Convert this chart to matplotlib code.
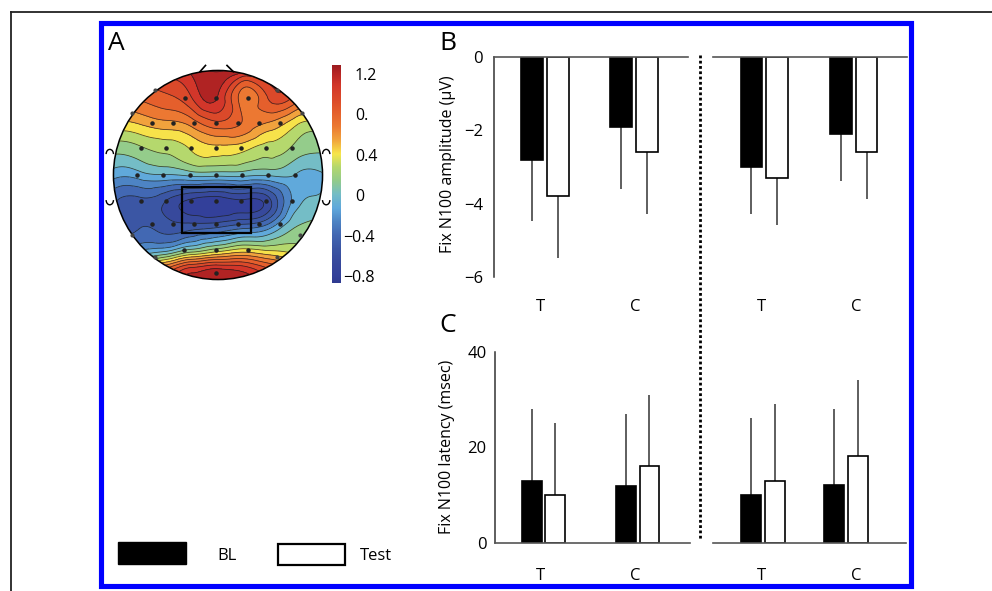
import numpy as np
import matplotlib
matplotlib.use("Agg")
import matplotlib.pyplot as plt
from matplotlib.colors import LinearSegmentedColormap, Normalize
from matplotlib.patches import Circle, Rectangle, Arc
from matplotlib.lines import Line2D
import matplotlib.tri as mtri

plt.rcParams['font.family'] = ['Open Sans', 'DejaVu Sans']

# ---------------- data ----------------
categories = ["T", "C"]
series_names = ["BL", "Test"]

amp_left_bl = [-2.81, -1.90]
amp_left_bl_err = [1.66, 1.70]
amp_left_test = [-3.79, -2.60]
amp_left_test_err = [1.69, 1.68]
amp_right_bl = [-3.01, -2.10]
amp_right_bl_err = [1.27, 1.28]
amp_right_test = [-3.30, -2.60]
amp_right_test_err = [1.29, 1.28]

lat_left_bl = [13.1, 12.0]
lat_left_bl_err = [14.9, 15.0]
lat_left_test = [10.1, 16.1]
lat_left_test_err = [15.0, 14.9]
lat_right_bl = [10.1, 12.2]
lat_right_bl_err = [16.0, 15.8]
lat_right_test = [13.1, 18.2]
lat_right_test_err = [15.9, 15.9]

amp_ticks = [0, -2, -4, -6]
amp_tick_labels = ["0", "\u22122", "\u22124", "\u22126"]
lat_ticks = [0, 20, 40]
lat_tick_labels = ["0", "20", "40"]

cbar_ticks = [1.2, 0.8, 0.4, 0.0, -0.4, -0.8]
cbar_tick_labels = ["1.2", "0.", "0.4", "0", "\u22120.4", "\u22120.8"]
cbar_min, cbar_max = -0.85, 1.31

# topography values on a coarse grid (rows: front -> back; cols: left -> right)
topo_x = [-1.0, -0.75, -0.5, -0.25, 0.0, 0.25, 0.5, 0.75, 1.0]
topo_y = [1.0, 0.75, 0.5, 0.25, 0.0, -0.25, -0.5, -0.75, -0.875, -1.0]
topo_values = [
    [0.95, 1.00, 1.10, 1.22, 1.32, 1.25, 1.15, 1.05, 0.95],
    [0.75, 0.80, 0.88, 1.05, 1.17, 0.70, 0.95, 0.88, 0.80],
    [0.48, 0.52, 0.60, 0.70, 0.88, 0.75, 0.62, 0.40, 0.32],
    [0.15, 0.20, 0.27, 0.38, 0.45, 0.40, 0.30, 0.18, 0.12],
    [-0.12, -0.10, -0.05, 0.00, 0.00, 0.00, -0.02, -0.05, -0.05],
    [-0.42, -0.48, -0.58, -0.75, -0.80, -0.74, -0.60, -0.10, 0.00],
    [-0.40, -0.45, -0.50, -0.50, -0.45, -0.35, -0.20, 0.10, 0.15],
    [-0.20, -0.10, 0.05, 0.30, 0.45, 0.55, 0.45, 0.35, 0.30],
    [0.20, 0.40, 0.70, 1.00, 1.10, 1.05, 0.85, 0.60, 0.40],
    [0.50, 0.80, 1.00, 1.20, 1.28, 1.25, 1.05, 0.80, 0.60],
]

# ---------------- layout helpers ----------------
W, H = 992, 591
fig = plt.figure(figsize=(W / 100, H / 100), dpi=100)
fig.patch.set_facecolor("white")


def rect(x0, y0, x1, y1):
    return [x0 / W, 1 - y1 / H, (x1 - x0) / W, (y1 - y0) / H]


# overlay axes in pixel coordinates
ov = fig.add_axes([0, 0, 1, 1], zorder=0)
ov.set_xlim(0, W)
ov.set_ylim(H, 0)
ov.axis("off")
ov.patch.set_alpha(0)

# outer thin frame (top and left only)
ov.add_line(Line2D([11, W], [12, 12], color="#222222", lw=1.3))
ov.add_line(Line2D([11, 11], [12, H], color="#222222", lw=1.3))
# blue border
ov.add_patch(Rectangle((100.5, 22.5), 910.5 - 100.5, 585.5 - 22.5, fill=False,
                       edgecolor="#0000ff", lw=3.7))
# dotted divider
ov.add_line(Line2D([700, 700], [55, 540], color="black", lw=2.0,
                   linestyle=(0, (1, 0.9))))
# panel letters
ov.text(116.5, 43, "A", fontsize=19, ha="center", va="center")
ov.text(447.5, 43, "B", fontsize=19, ha="center", va="center")
ov.text(447.5, 325, "C", fontsize=19, ha="center", va="center")
# legend
ov.add_patch(Rectangle((118, 542), 68, 22, facecolor="black", edgecolor="black", lw=1))
ov.text(227.5, 556, series_names[0], fontsize=12, ha="center", va="center")
ov.add_patch(Rectangle((277.5, 543.5), 67, 21, facecolor="white", edgecolor="black", lw=1.6))
ov.text(375.5, 556, series_names[1], fontsize=12, ha="center", va="center")
# axis titles
ov.text(448, 164, "Fix N100 amplitude (\u00b5V)", fontsize=11.5, rotation=90,
        ha="center", va="center")
ov.text(447, 447, "Fix N100 latency (msec)", fontsize=11.5, rotation=90,
        ha="center", va="center")

# ---------------- topographic map ----------------
cmap_nodes = [
    (-0.85, "#2f3b90"), (-0.78, "#33409a"), (-0.65, "#37499c"), (-0.51, "#3b56a4"),
    (-0.38, "#4267b2"), (-0.24, "#4d84c4"), (-0.11, "#5fa8dc"), (0.03, "#74bdc6"),
    (0.16, "#92cb8c"), (0.30, "#b4d86e"), (0.43, "#f7e64b"), (0.57, "#f1a33d"),
    (0.70, "#ec7a32"), (0.84, "#e5602c"), (0.97, "#dc4a2a"), (1.11, "#d3372a"),
    (1.24, "#b42424"), (1.31, "#9c1c20"),
]
cmap = LinearSegmentedColormap.from_list(
    "topo", [((v - cbar_min) / (cbar_max - cbar_min), c) for v, c in cmap_nodes])
norm = Normalize(cbar_min, cbar_max)

axh = fig.add_axes(rect(103, 60, 333, 290), zorder=2)
axh.set_xlim(-1.1, 1.1)
axh.set_ylim(-1.1, 1.1)
axh.axis("off")
axh.patch.set_alpha(0)

gx, gy = np.meshgrid(np.array(topo_x), np.array(topo_y))
tri = mtri.Triangulation(gx.ravel(), gy.ravel())
refiner = mtri.UniformTriRefiner(tri)
tri_r, z_r = refiner.refine_field(np.array(topo_values).ravel(), subdiv=4)
levels = np.linspace(cbar_min, cbar_max, 17)
head = Circle((0, 0), 1.0, transform=axh.transData, facecolor="none")
cf = axh.tricontourf(tri_r, z_r, levels=levels, cmap=cmap, norm=norm, extend="both")
cf.set_clip_path(head)
cl = axh.tricontour(tri_r, z_r, levels=levels, colors="#1a1a1a", linewidths=0.55,
                    linestyles="solid", alpha=0.8)
cl.set_clip_path(head)
axh.add_patch(Circle((0, 0), 1.0, fill=False, edgecolor="black", lw=1.1))

# electrodes (pixel positions converted to head units)
cx, cy, rr = 218.0, 175.0, 104.5
elec_rows = [
    (98, [185, 216, 248]),
    (123.3, [151.7, 172.7, 194, 216, 237.7, 259.3, 280]),
    (148.3, [141, 165.7, 191, 216, 241, 266.3, 291.7]),
    (175, [137.3, 163.3, 190, 216, 242.3, 268.3, 295]),
    (200.7, [141, 165.7, 191, 216, 241, 266.3, 291.7]),
    (224, [151.7, 172.7, 194, 216, 237.7, 259.3, 280]),
    (250, [184, 216, 247.7]),
    (273.3, [216]),
]
ex, ey = [], []
for py, pxs in elec_rows:
    for px in pxs:
        ex.append((px - cx) / rr)
        ey.append((cy - py) / rr)
axh.scatter(ex, ey, s=5, color="#222222", zorder=5)
edge_px = [(155, 90), (276.7, 90), (131.7, 113.3), (301.7, 113.3),
           (131.7, 235), (300, 235), (155, 257), (276.7, 257)]
axh.scatter([(p - cx) / rr for p, _ in edge_px], [(cy - q) / rr for _, q in edge_px],
            s=4, color="#444444", zorder=5)

# box
bx0, bx1 = (181.7 - cx) / rr, (250.7 - cx) / rr
by0, by1 = (cy - 232.7) / rr, (cy - 186.7) / rr
axh.add_patch(Rectangle((bx0, by0), bx1 - bx0, by1 - by0, fill=False,
                        edgecolor="black", lw=1.6, zorder=6))
# nose
axh.add_line(Line2D([(200 - cx) / rr, (205.5 - cx) / rr], [(cy - 71.7) / rr, (cy - 65.5) / rr],
                    color="black", lw=1.2))
axh.add_line(Line2D([(227 - cx) / rr, (233.3 - cx) / rr], [(cy - 65.5) / rr, (cy - 71.7) / rr],
                    color="black", lw=1.2))
# ears: small curls at the ends of each ear
for side in (-1, 1):
    xc = side * 1.035
    axh.add_patch(Arc((xc, 0.20), 0.07, 0.09, theta1=0, theta2=180, color="black", lw=1.0))
    axh.add_patch(Arc((xc, -0.24), 0.07, 0.09, theta1=180, theta2=360, color="black", lw=1.0))

# colorbar
cax = fig.add_axes(rect(331.7, 65, 340, 283), zorder=3)
grad = np.linspace(cbar_min, cbar_max, 256).reshape(-1, 1)
cax.imshow(grad, aspect="auto", cmap=cmap, norm=norm, origin="lower",
           extent=[0, 1, cbar_min, cbar_max])
cax.set_xlim(0, 1)
cax.set_ylim(cbar_min, cbar_max)
cax.set_xticks([])
cax.set_yticks([])
for s in cax.spines.values():
    s.set_visible(False)
for v, lab in zip(cbar_ticks, cbar_tick_labels):
    xpx = 343 if lab.startswith("\u2212") else 355
    cax.text((xpx - 331.7) / (340 - 331.7), v, lab, fontsize=11.5, ha="left", va="center",
             transform=cax.get_yaxis_transform())


# ---------------- bar panels ----------------
def bar_panel(x0, x1, y0, y1, ylim, groups_px, off_px, width_px, label_px, label_pad,
              bl, bl_err, test, test_err, show_y, ticks, tick_labels, negative):
    ax = fig.add_axes(rect(x0, y0, x1, y1), zorder=4)
    ax.patch.set_alpha(0)
    ax.set_xlim(0, x1 - x0)
    ax.set_ylim(*ylim)
    g = np.array(groups_px)
    for vals, errs, xs, fc in ((bl, bl_err, g - off_px, "black"),
                               (test, test_err, g + off_px, "white")):
        vals = np.array(vals)
        errs = np.array(errs)
        if negative:
            yerr = [errs, np.zeros_like(errs)]
        else:
            yerr = [np.zeros_like(errs), errs]
        ax.errorbar(xs, vals, yerr=yerr, fmt="none", ecolor="#333333", elinewidth=1.1,
                    capsize=0, zorder=1)
        ax.bar(xs, vals, width=width_px, color=fc, edgecolor="black", linewidth=1.2, zorder=2)
    for sp in ax.spines.values():
        sp.set_visible(False)
    line_sp = "top" if negative else "bottom"
    ax.spines[line_sp].set_visible(True)
    ax.spines[line_sp].set_color("#555555")
    ax.spines[line_sp].set_linewidth(1.2)
    ax.spines[line_sp].set_zorder(3)
    if show_y:
        ax.spines["left"].set_visible(True)
        ax.spines["left"].set_color("#333333")
        ax.spines["left"].set_linewidth(1.1)
        ax.set_yticks(ticks)
        ax.set_yticklabels(tick_labels, fontsize=12)
        ax.tick_params(axis="y", length=0, pad=8 if negative else 6)
    else:
        ax.set_yticks([])
    ax.set_xticks(label_px)
    ax.set_xticklabels(categories, fontsize=12)
    ax.tick_params(axis="x", length=0, pad=label_pad, bottom=True, top=False,
                   labelbottom=True, labeltop=False)
    return ax


# B: amplitude
bar_panel(494, 688, 57.3, 276.7, (-6, 0), [51, 140], 12.8, 21.5, [46, 141], 16,
          amp_left_bl, amp_left_bl_err, amp_left_test, amp_left_test_err,
          True, amp_ticks, amp_tick_labels, True)
bar_panel(712.7, 906.7, 57.3, 276.7, (-6, 0), [51.5, 141], 12.8, 21.5, [49, 144], 16,
          amp_right_bl, amp_right_bl_err, amp_right_test, amp_right_test_err,
          False, amp_ticks, amp_tick_labels, True)
# C: latency
bar_panel(495, 690, 351.7, 543.3, (0, 40), [48.3, 142.7], 11.7, 19.8, [45, 140], 17.5,
          lat_left_bl, lat_left_bl_err, lat_left_test, lat_left_test_err,
          True, lat_ticks, lat_tick_labels, False)
bar_panel(713, 906, 351.7, 543.3, (0, 40), [49.6, 133], 12.0, 19.8, [48.7, 143.7], 17.5,
          lat_right_bl, lat_right_bl_err, lat_right_test, lat_right_test_err,
          False, lat_ticks, lat_tick_labels, False)

fig.savefig("out.png", dpi=100)
